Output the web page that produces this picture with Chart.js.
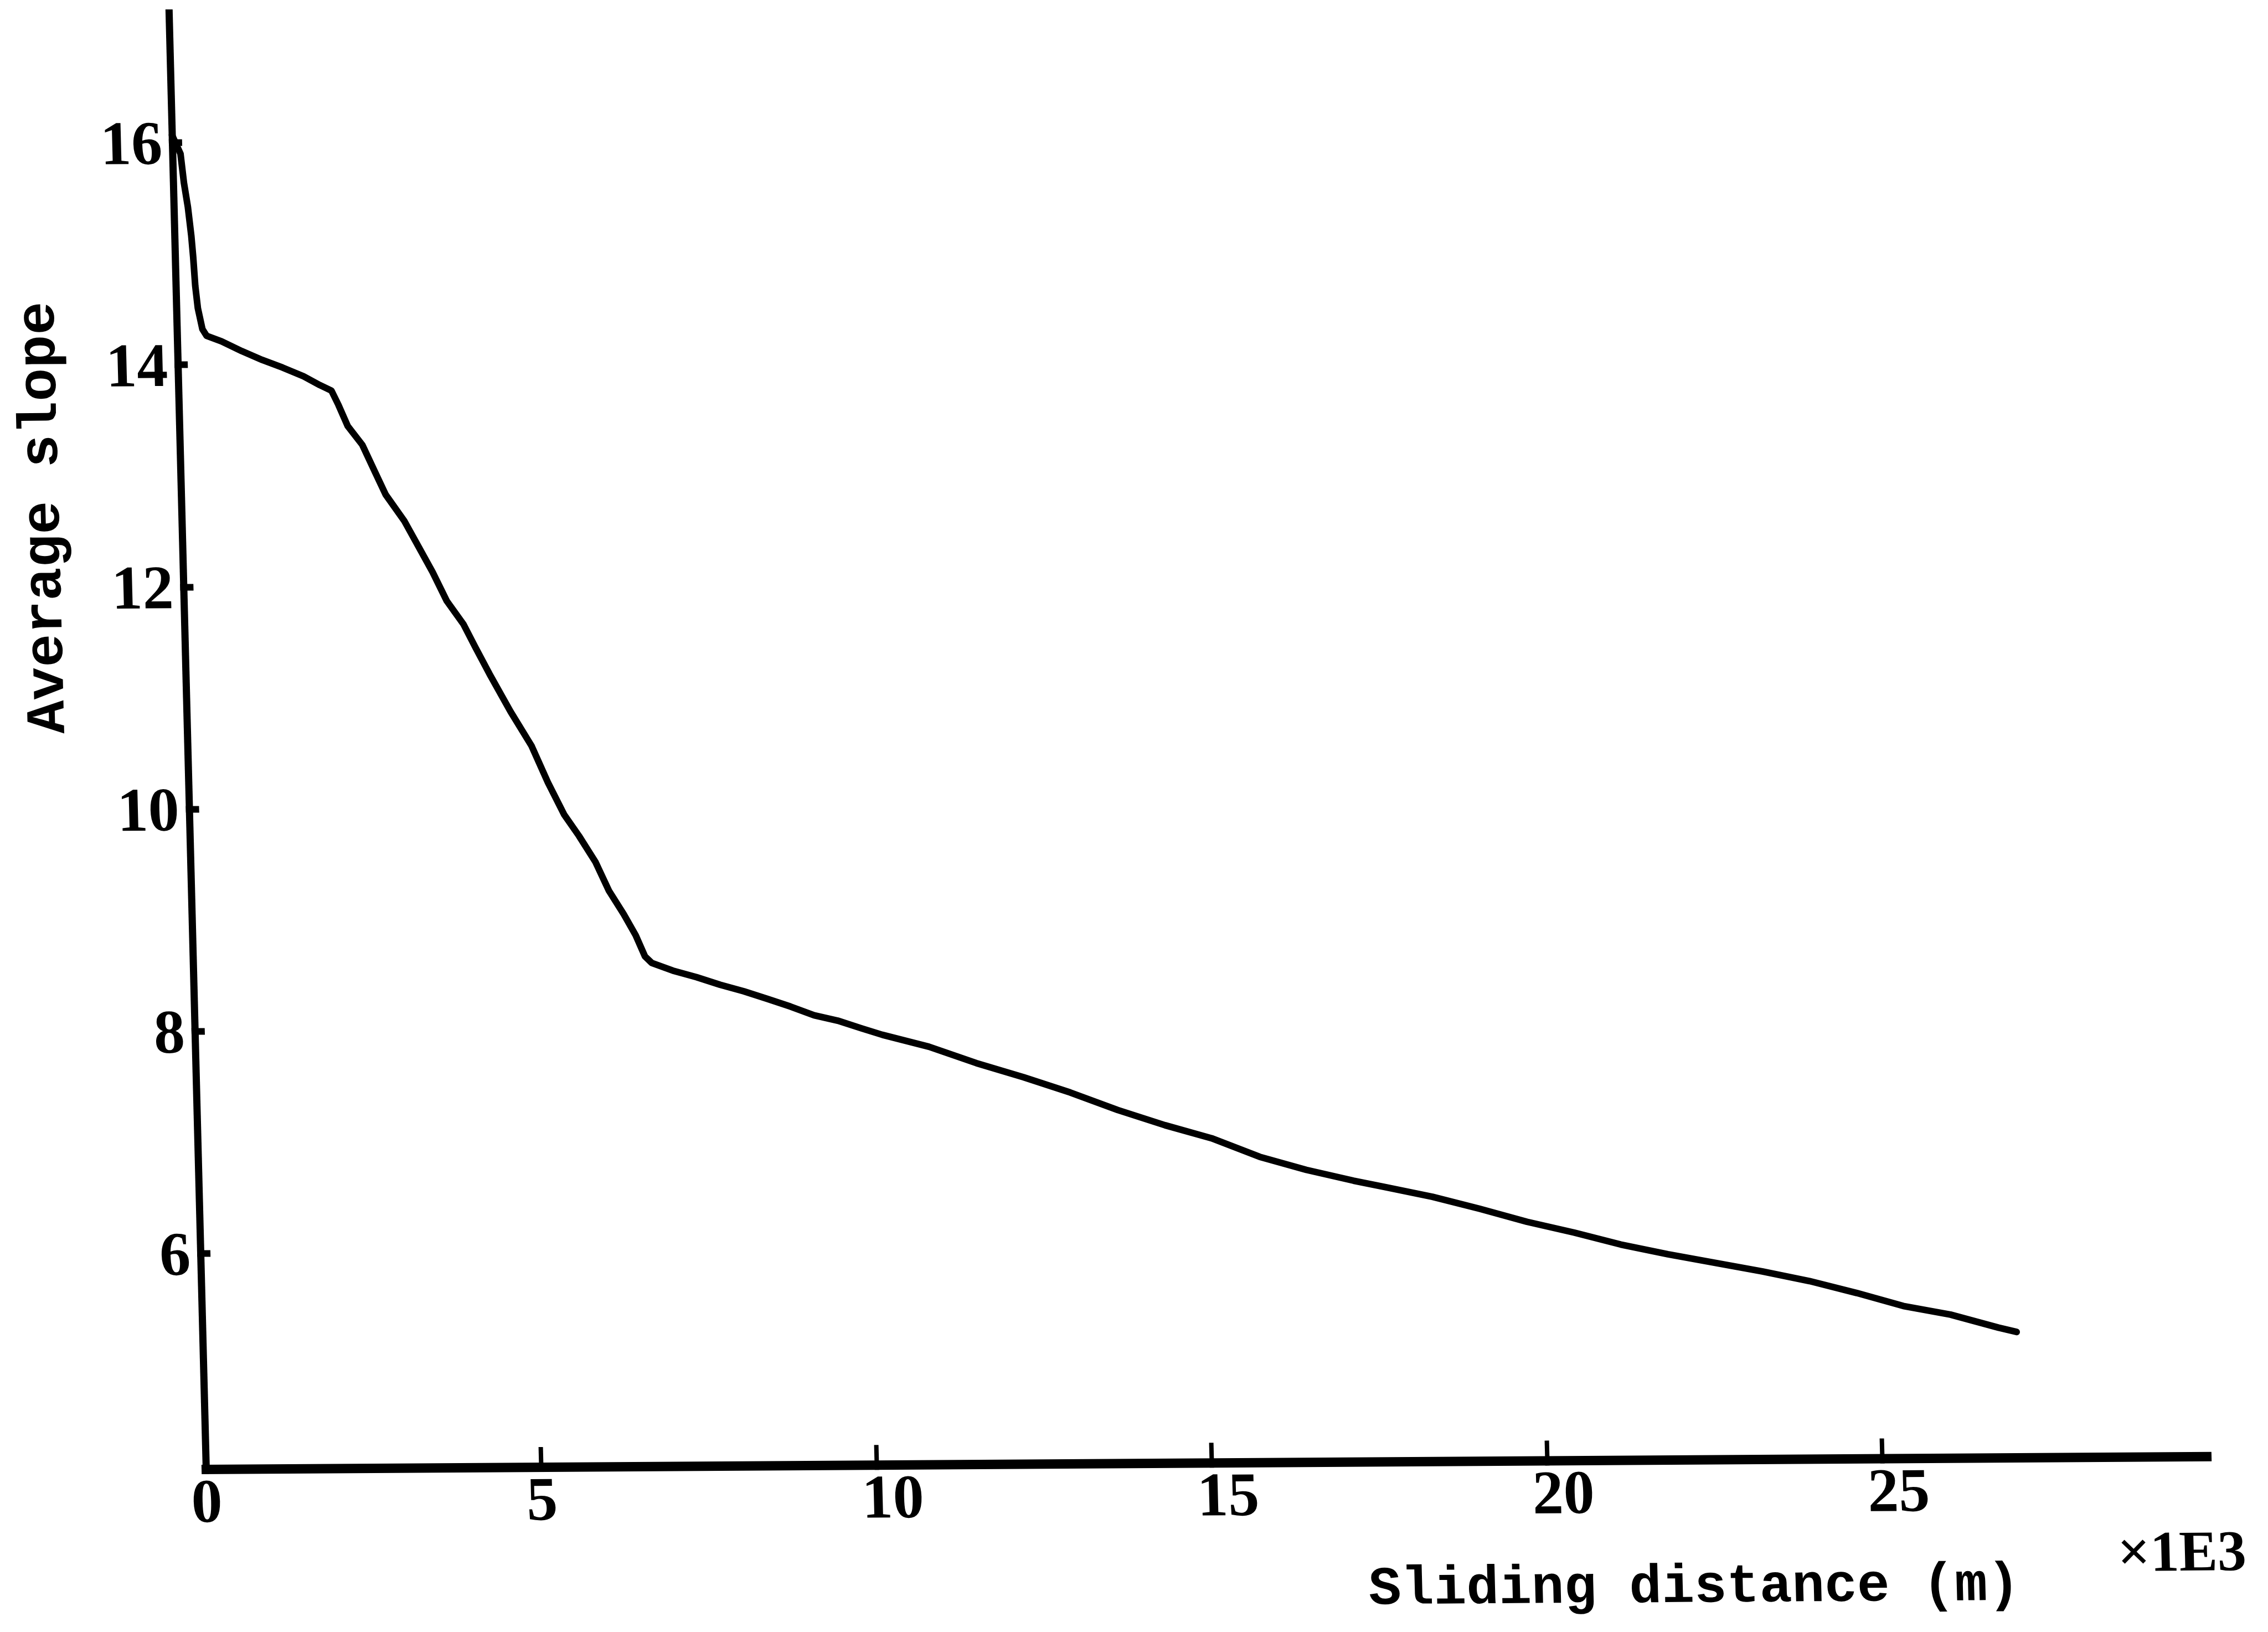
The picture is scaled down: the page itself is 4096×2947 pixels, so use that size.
<!DOCTYPE html>
<html>
<head>
<meta charset="utf-8">
<title>Average slope vs sliding distance</title>
<script src="https://cdn.jsdelivr.net/npm/chart.js@4.4.1/dist/chart.umd.min.js"></script>
<style>
  html, body { margin: 0; padding: 0; background: #fff; }
  #wrap { width: 4096px; height: 2947px; position: relative; }
</style>
</head>
<body>
<div id="wrap"><canvas id="slopeChart"></canvas></div>
<script>
// sliding distance, in units of 1E3 m
const distance = [
  0.00, 0.12, 0.16, 0.21, 0.25, 0.27, 0.29, 0.32, 0.38, 0.44,
  0.66, 0.96, 1.26, 1.56, 1.87, 2.11, 2.28, 2.38, 2.51, 2.72,
  2.91, 3.05, 3.32, 3.52, 3.72, 3.92, 4.16, 4.33, 4.53, 4.83,
  5.13, 5.36, 5.59, 5.80, 6.04, 6.23, 6.44, 6.61, 6.74, 6.84,
  7.15, 7.50, 7.85, 8.20, 8.55, 8.89, 9.24, 9.59, 9.94, 10.25,
  10.94, 11.64, 12.34, 13.03, 13.73, 14.43, 15.12, 15.83, 16.52, 17.22,
  17.69, 18.39, 19.09, 19.79, 20.49, 21.18, 21.88, 22.58, 23.28, 23.98,
  24.68, 25.37, 26.07, 26.78, 27.05
];
const slope = [
  16.07, 15.90, 15.64, 15.42, 15.16, 14.97, 14.71, 14.51, 14.32, 14.26,
  14.21, 14.12, 14.04, 13.97, 13.89, 13.81, 13.76, 13.63, 13.44, 13.27,
  13.01, 12.82, 12.58, 12.35, 12.12, 11.86, 11.65, 11.44, 11.20, 10.86,
  10.55, 10.22, 9.93, 9.74, 9.50, 9.24, 9.03, 8.84, 8.65, 8.59,
  8.52, 8.46, 8.39, 8.33, 8.26, 8.19, 8.11, 8.06, 7.99, 7.93,
  7.82, 7.67, 7.54, 7.40, 7.24, 7.10, 6.98, 6.81, 6.69, 6.59,
  6.53, 6.44, 6.33, 6.21, 6.11, 6.00, 5.91, 5.83, 5.75, 5.66,
  5.55, 5.43, 5.35, 5.23, 5.19
];
const xTicks = [0, 5, 10, 15, 20, 25];
const yTicks = [6, 8, 10, 12, 14, 16];
const xRange = [0, 29.9];
const yRange = [4.06, 17.17];

const INK = '#000';
const MONO = "'Liberation Mono', 'Courier New', monospace";
const DIGITS = "'Liberation Serif', 'Times New Roman', serif";

// plotter output is not square: y axis leans left going up, x axis climbs to the right
const SHEAR_X = 0.0255;
const SHEAR_Y = -0.00645;

const shear = {
  id: 'shear',
  beforeDraw(chart) {
    const ctx = chart.ctx;
    const x0 = chart.scales.x.getPixelForValue(xRange[0]);
    const y0 = chart.scales.y.bottom;
    ctx.save();
    ctx.transform(1, SHEAR_Y, SHEAR_X, 1, -SHEAR_X * y0, -SHEAR_Y * x0);
  },
  afterDraw(chart) {
    chart.ctx.restore();
  }
};

// axis captions
const captions = {
  id: 'captions',
  afterDatasetsDraw(chart) {
    const ctx = chart.ctx;
    ctx.save();
    ctx.fillStyle = INK;
    ctx.textAlign = 'center';
    ctx.textBaseline = 'alphabetic';

    ctx.font = `bold 98px ${MONO}`;
    ctx.fillText('Sliding distance (m)', 3054, 2910);

    ctx.font = `bold 104px ${DIGITS}`;
    ctx.fillText('×1E3', 3936, 2859);

    ctx.translate(150, 933);
    ctx.rotate(-Math.PI / 2);
    ctx.font = `bold 100px ${MONO}`;
    ctx.fillText('Average slope', 0, 0);
    ctx.restore();
  }
};

const tickFont = { family: DIGITS, size: 112, weight: 'bold' };

// keep the plot area where it is set; labels may overhang it
function noOverhang(scale) {
  scale.paddingTop = 0;
  scale.paddingBottom = 0;
  scale.paddingLeft = 0;
  scale.paddingRight = 0;
}

new Chart(document.getElementById('slopeChart'), {
  type: 'line',
  data: {
    datasets: [{
      data: distance.map((d, i) => ({ x: d, y: slope[i] })),
      borderColor: INK,
      borderWidth: 12,
      borderJoinStyle: 'round',
      borderCapStyle: 'round',
      pointRadius: 0,
      tension: 0,
      fill: false,
      clip: false
    }]
  },
  options: {
    responsive: true,
    maintainAspectRatio: false,
    devicePixelRatio: 1,
    animation: false,
    events: [],
    layout: { padding: { top: 23, right: 103, left: 0, bottom: 0 } },
    plugins: {
      legend: { display: false },
      tooltip: { enabled: false }
    },
    scales: {
      x: {
        type: 'linear',
        min: xRange[0],
        max: xRange[1],
        afterFit(scale) { scale.height = 294; noOverhang(scale); },
        afterBuildTicks(scale) { scale.ticks = xTicks.map(v => ({ value: v })); },
        border: { display: true, color: INK, width: 17 },
        grid: { drawOnChartArea: false, drawTicks: true, tickLength: -36, tickWidth: 8, tickColor: INK },
        ticks: {
          color: INK,
          font: tickFont,
          padding: 35,
          align: 'start',
          labelOffset: -28,
          maxRotation: 0,
          autoSkip: false,
          callback: v => String(v)
        }
      },
      y: {
        type: 'linear',
        min: yRange[0],
        max: yRange[1],
        afterFit(scale) { scale.width = 372; noOverhang(scale); },
        afterBuildTicks(scale) { scale.ticks = yTicks.map(v => ({ value: v })); },
        border: { display: true, color: INK, width: 13 },
        grid: { drawOnChartArea: false, drawTicks: true, tickLength: -18, tickWidth: 12, tickColor: INK },
        ticks: {
          color: INK,
          font: tickFont,
          padding: 36,
          labelOffset: 9,
          autoSkip: false,
          callback: v => String(v)
        }
      }
    }
  },
  plugins: [shear, captions]
});
</script>
</body>
</html>
